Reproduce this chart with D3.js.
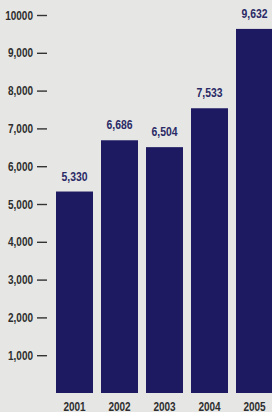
<!DOCTYPE html>
<html>
<head>
<meta charset="utf-8">
<script src="https://cdn.jsdelivr.net/npm/d3@7"></script>
<style>
  html, body { margin: 0; padding: 0; background: #e6e6e4; }
  svg { display: block; }
  text { font-family: "Liberation Sans", Arial, sans-serif; font-weight: bold; }
</style>
</head>
<body>
<div id="chart"></div>
<script>
'use strict';

// Chart data
const years = ['2001', '2002', '2003', '2004', '2005'];
const values = [5330, 6686, 6504, 7533, 9632];
const valueLabels = ['5,330', '6,686', '6,504', '7,533', '9,632'];
const tickValues = [1000, 2000, 3000, 4000, 5000, 6000, 7000, 8000, 9000, 10000];
const tickLabels = ['1,000', '2,000', '3,000', '4,000', '5,000', '6,000', '7,000', '8,000', '9,000', '10000'];

const width = 272;
const height = 412;

// The reference type is a condensed face; squeeze the text horizontally
const squeeze = 0.8;

const svg = d3.select('#chart')
  .append('svg')
    .attr('width', width)
    .attr('height', height);

// Scales
const y = d3.scaleLinear()
  .domain([0, 10000])
  .range([393, 15]);

const x = d3.scaleBand()
  .domain(years)
  .range([52, 277])
  .paddingInner(8 / 45)
  .paddingOuter(4 / 45);

// Y axis: labels with a short dash to the right
const yAxis = d3.axisLeft(y)
  .tickValues(tickValues)
  .tickFormat((d, i) => tickLabels[i])
  .tickSize(10)
  .tickPadding(4);

svg.append('g')
    .attr('transform', 'translate(47, 0)')
    .call(yAxis)
    .call(g => g.select('.domain').remove())
    .call(g => g.selectAll('line').attr('stroke', '#333').attr('stroke-width', 1.4))
    .call(g => g.selectAll('text')
      .attr('fill', '#2e2e2e')
      .style('font-size', '12.5px'));

// Bars
svg.append('g')
  .selectAll('rect')
  .data(values)
  .enter()
  .append('rect')
    .attr('x', (d, i) => x(years[i]))
    .attr('y', d => y(d))
    .attr('width', x.bandwidth())
    .attr('height', d => y(0) - y(d))
    .attr('fill', '#1d1a62');

// Value labels above bars
svg.append('g')
  .selectAll('text')
  .data(values)
  .enter()
  .append('text')
    .attr('x', (d, i) => x(years[i]) + x.bandwidth() / 2)
    .attr('y', d => y(d) - 11)
    .attr('text-anchor', 'middle')
    .attr('fill', '#2a2a66')
    .style('font-size', '13px')
    .text((d, i) => valueLabels[i]);

// X axis: year labels
svg.append('g')
    .attr('transform', `translate(0, ${y(0)})`)
    .call(d3.axisBottom(x).tickSize(0).tickPadding(9))
    .call(g => g.select('.domain').remove())
    .call(g => g.selectAll('text')
      .attr('fill', '#2e2e2e')
      .style('font-size', '12.5px'));

// Condense every label
svg.selectAll('text').each(function() {
  const len = this.getComputedTextLength();
  d3.select(this)
    .attr('textLength', len * squeeze)
    .attr('lengthAdjust', 'spacingAndGlyphs');
});
</script>
</body>
</html>
